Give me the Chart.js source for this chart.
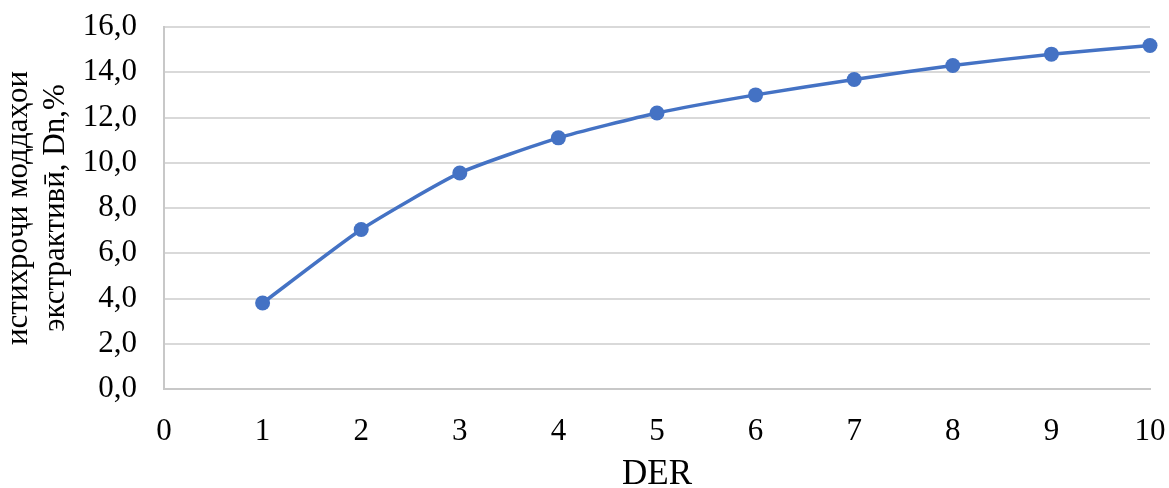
<!DOCTYPE html>
<html lang="tg">
<head>
    <meta charset="UTF-8">
    <title>DER</title>
    <script src="https://cdn.jsdelivr.net/npm/chart.js@4/dist/chart.umd.min.js"></script>
    <style>
        html, body {
            margin: 0;
            padding: 0;
            background: #ffffff;
        }
        .chart-box {
            position: relative;
            width: 1169px;
            height: 488px;
        }
    </style>
</head>
<body>
    <div class="chart-box">
        <canvas id="derChart"></canvas>
    </div>

    <script>
        // values
        const derValues = [1, 2, 3, 4, 5, 6, 7, 8, 9, 10];
        const dnValues = [3.8, 7.05, 9.55, 11.1, 12.2, 13.0, 13.68, 14.3, 14.8, 15.18];
        const yTitleLines = ['истихроҷи моддаҳои', 'экстрактивӣ, Dn,%'];
        const xTitle = 'DER';

        const points = derValues.map((x, i) => ({ x: x, y: dnValues[i] }));

        const serif = 'Liberation Serif, Times New Roman, serif';
        const blue = '#4472C4';

        new Chart(document.getElementById('derChart'), {
            type: 'line',
            data: {
                datasets: [{
                    data: points,
                    borderColor: blue,
                    backgroundColor: blue,
                    borderWidth: 3.5,
                    pointRadius: 7.5,
                    pointHoverRadius: 7.5,
                    pointBackgroundColor: blue,
                    pointBorderWidth: 0,
                    tension: 0.18,
                    clip: false
                }]
            },
            options: {
                responsive: true,
                maintainAspectRatio: false,
                animation: false,
                layout: {
                    padding: { top: 27, right: 19, bottom: 0, left: 0 }
                },
                plugins: {
                    legend: { display: false },
                    tooltip: { enabled: false }
                },
                scales: {
                    x: {
                        type: 'linear',
                        min: 0,
                        max: 10,
                        ticks: {
                            stepSize: 1,
                            color: '#000',
                            padding: 0,
                            font: { family: serif, size: 31 }
                        },
                        // invisible tick marks used only as spacing
                        grid: {
                            drawOnChartArea: false,
                            drawTicks: true,
                            tickLength: 24,
                            color: 'transparent',
                            tickColor: 'transparent'
                        },
                        border: { display: true, color: '#c8c8c8', width: 2 },
                        title: {
                            display: true,
                            text: xTitle,
                            color: '#000',
                            padding: { top: 0, bottom: 0 },
                            font: { family: serif, size: 35, lineHeight: 0.75 }
                        },
                        afterFit: function (scale) { scale.height = 99; }
                    },
                    y: {
                        min: 0,
                        max: 16,
                        ticks: {
                            stepSize: 2,
                            color: '#000',
                            padding: 0,
                            font: { family: serif, size: 31 },
                            callback: v => v.toFixed(1).replace('.', ',')
                        },
                        grid: {
                            color: '#d9d9d9',
                            lineWidth: 2,
                            drawTicks: true,
                            tickLength: 27,
                            tickColor: 'transparent'
                        },
                        border: { display: true, color: '#c8c8c8', width: 2 },
                        title: {
                            display: true,
                            text: yTitleLines,
                            color: '#000',
                            padding: { top: 0, bottom: 0 },
                            font: { family: serif, size: 31, lineHeight: 1.2 }
                        },
                        afterFit: function (scale) { scale.width = 164; }
                    }
                }
            }
        });
    </script>
</body>
</html>
